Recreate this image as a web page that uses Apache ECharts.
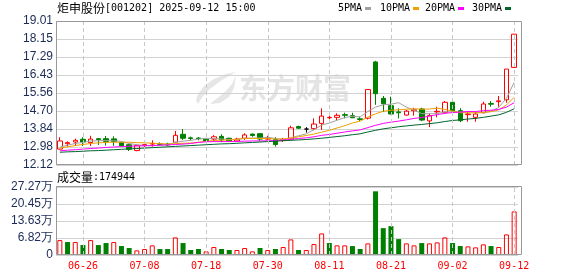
<!DOCTYPE html>
<html><head><meta charset="utf-8">
<script src="https://cdn.jsdelivr.net/npm/echarts@6/dist/echarts.min.js"></script>
<style>html,body{margin:0;padding:0;background:#fff}#c{width:578px;height:276px}</style>
</head><body><div id="c"></div>
<script>
const stockName = '炬申股份';
const stockCode = '001202';
const timeStr = '2025-09-12 15:00';
const lastVolume = 174944;

const dates = ['06-23','06-24','06-25','06-26','06-27','06-30','07-01','07-02','07-03','07-04','07-07','07-08','07-09','07-10','07-11','07-14','07-15','07-16','07-17','07-18','07-21','07-22','07-23','07-24','07-25','07-28','07-29','07-30','07-31','08-01','08-04','08-05','08-06','08-07','08-08','08-11','08-12','08-13','08-14','08-15','08-18','08-19','08-20','08-21','08-22','08-25','08-26','08-27','08-28','08-29','09-01','09-02','09-03','09-04','09-05','09-08','09-09','09-10','09-11','09-12'];
const labelDates = ['06-26','07-08','07-18','07-30','08-11','08-21','09-02','09-12'];

const opens  = [12.88,13.14,13.22,13.35,13.19,13.38,13.38,13.37,13.19,13.09,12.81,13.05,13.12,13.13,13.12,13.21,13.59,13.42,13.41,13.35,13.36,13.49,13.40,13.27,13.40,13.60,13.62,13.36,13.33,13.30,13.36,13.96,13.84,13.86,14.11,14.38,14.40,14.53,14.48,14.33,14.36,17.05,15.31,14.96,14.66,14.51,14.72,14.80,14.23,14.66,14.64,15.12,14.72,14.53,14.40,14.62,15.06,15.15,15.24,16.79];
const closes = [13.27,13.19,13.30,13.22,13.36,13.34,13.25,13.25,13.04,12.87,13.05,13.10,13.15,13.11,13.08,13.54,13.40,13.39,13.38,13.27,13.47,13.32,13.26,13.36,13.56,13.53,13.36,13.40,13.10,13.33,13.90,13.88,13.84,14.08,14.46,14.40,14.50,14.50,14.38,14.30,15.73,15.53,15.05,14.56,14.62,14.70,14.76,14.27,14.48,14.69,15.12,14.72,14.24,14.56,14.56,15.04,15.03,15.19,16.71,18.38];
const lows   = [12.86,13.00,13.03,13.03,13.03,13.08,13.05,13.04,13.00,12.79,12.78,12.97,13.00,13.05,13.02,13.16,13.32,13.30,13.30,13.25,13.24,13.21,13.24,13.22,13.32,13.47,13.27,13.32,13.00,13.22,13.34,13.85,13.67,13.80,13.80,14.19,14.27,14.35,14.37,14.22,14.30,15.00,14.65,14.55,14.35,14.48,14.48,14.22,13.93,14.40,14.59,14.68,14.17,14.19,14.19,14.60,14.91,14.91,15.10,16.76];
const highs  = [13.45,13.25,13.38,13.45,13.52,13.40,13.51,13.49,13.23,13.14,13.10,13.21,13.30,13.20,13.18,13.75,13.84,13.48,13.46,13.38,13.55,13.59,13.42,13.42,13.64,13.62,13.64,13.52,13.45,13.42,14.00,14.00,13.93,14.35,14.83,14.47,14.59,14.62,14.62,14.43,15.73,17.10,15.42,15.39,14.83,14.75,14.86,14.86,14.59,14.91,15.18,15.18,14.84,14.67,14.67,15.15,15.18,15.42,16.71,18.38];

const ma5  = [12.97,13.07,13.15,13.20,13.27,13.28,13.29,13.28,13.25,13.15,13.09,13.06,13.04,13.06,13.10,13.20,13.26,13.30,13.36,13.40,13.38,13.37,13.34,13.34,13.39,13.41,13.41,13.44,13.39,13.34,13.42,13.52,13.61,13.81,14.03,14.13,14.26,14.39,14.45,14.42,14.68,14.89,15.00,15.03,15.10,14.89,14.74,14.58,14.57,14.58,14.66,14.66,14.65,14.67,14.64,14.62,14.69,14.88,15.31,16.07];
const ma10 = [12.93,12.99,13.05,13.10,13.15,13.18,13.20,13.21,13.21,13.21,13.19,13.18,13.16,13.15,13.12,13.14,13.16,13.17,13.21,13.25,13.29,13.31,13.32,13.35,13.40,13.39,13.39,13.39,13.36,13.37,13.41,13.47,13.53,13.60,13.69,13.78,13.89,14.00,14.13,14.22,14.41,14.57,14.69,14.74,14.76,14.79,14.81,14.79,14.80,14.84,14.78,14.70,14.62,14.62,14.61,14.64,14.67,14.76,14.99,15.36];
const ma20 = [12.80,12.83,12.85,12.88,12.91,12.93,12.96,12.98,13.00,13.02,13.03,13.04,13.05,13.07,13.08,13.10,13.12,13.15,13.20,13.23,13.24,13.24,13.24,13.25,13.26,13.27,13.27,13.28,13.29,13.31,13.35,13.39,13.42,13.47,13.54,13.58,13.64,13.70,13.75,13.80,13.91,14.02,14.11,14.17,14.22,14.28,14.35,14.39,14.46,14.53,14.59,14.63,14.65,14.68,14.68,14.72,14.74,14.78,14.89,15.10];
const ma30 = [12.73,12.75,12.76,12.78,12.80,12.81,12.83,12.85,12.87,12.89,12.91,12.93,12.95,12.97,12.99,13.01,13.03,13.05,13.07,13.09,13.11,13.13,13.14,13.16,13.18,13.20,13.22,13.24,13.26,13.28,13.30,13.32,13.34,13.37,13.40,13.44,13.48,13.52,13.57,13.61,13.70,13.78,13.85,13.90,13.95,13.99,14.03,14.06,14.10,14.14,14.20,14.25,14.28,14.32,14.35,14.40,14.46,14.52,14.64,14.81];

const volumes = [59900,51900,51900,39900,59900,39900,47900,51900,35900,27900,18600,23900,38600,23900,23900,70500,47900,20000,24000,14600,32000,24000,20000,20000,28000,14600,28000,20000,24000,32000,62500,20000,20000,43900,86500,47900,38600,38600,35900,24000,46600,255400,107700,115700,63800,46600,38600,47900,46600,50500,70500,47900,35900,34600,30600,42600,35900,32000,82500,174944];
const volumeUp = [1,0,1,0,1,0,0,1,0,0,1,1,1,0,0,1,0,0,0,1,1,0,0,1,1,1,0,1,0,1,1,0,1,1,1,0,1,1,0,0,1,0,0,0,0,1,1,0,1,1,1,0,0,1,1,1,0,1,1,1];

const priceMin = 12.12, priceMax = 19.01, priceStep = 0.86125;
const priceTicks = ['12.12','12.98','13.84','14.70','15.56','16.43','17.29','18.15','19.01'];
const volMax = 272700, volStep = 68175;
const volTicks = ['0','6.82万','13.63万','20.45万','27.27万'];

const maNames = ['5PMA','10PMA','20PMA','30PMA'];
const maColors = ['#a0a0a0','#f0a000','#ff00ff','#00662e'];
const maData = [ma5, ma10, ma20, ma30];

const RED = '#ff0000', GREEN = '#008000', LABEL = '#1b2b55';

const candleData = dates.map((d, i) => {
  const item = { value: [opens[i], closes[i], lows[i], highs[i]] };
  if (opens[i] === closes[i]) {
    item.itemStyle = { color: '#000', color0: '#000', borderColor: '#000', borderColor0: '#000' };
  }
  return item;
});
const volData = volumes.map((v, i) => ({
  value: v,
  itemStyle: volumeUp[i]
    ? { color: 'rgba(0,0,0,0)', borderColor: RED, borderWidth: 1 }
    : { color: GREEN, borderColor: GREEN, borderWidth: 0 }
}));

const vLines = labelDates.map(d => ({ xAxis: d }));
const markLineCfg = {
  silent: true, symbol: ['none', 'none'], label: { show: false },
  lineStyle: { color: '#c8c8c8', type: [4, 3], width: 1 },
  emphasis: { disabled: true }, animation: false,
  data: vLines
};

const chart = echarts.init(document.getElementById('c'), null, { renderer: 'canvas' });

const graphics = [];
graphics.push({ type: 'rect', z: 10, shape: { x: 56.5, y: 21.5, width: 465, height: 143 }, style: { fill: null, stroke: '#999', lineWidth: 1 } });
graphics.push({ type: 'rect', z: 10, shape: { x: 56.5, y: 186.5, width: 465, height: 68 }, style: { fill: null, stroke: '#999', lineWidth: 1 } });
graphics.push({ type: 'text', x: 57, y: 8.5, style: {
  text: '{a|' + stockName + '}{b|[' + stockCode + '] ' + timeStr + '}',
  verticalAlign: 'middle', fill: '#000',
  rich: { a: { fontFamily: 'Noto Sans CJK SC', fontSize: 12, fill: '#000' }, b: { fontFamily: 'DejaVu Sans Mono', fontSize: 10, fill: '#000' } }
} });
const legX = [338, 380, 425, 472];
maNames.forEach((n, k) => {
  graphics.push({ type: 'text', x: legX[k], y: 8.5, style: { text: n, fontFamily: 'DejaVu Sans Mono', fontSize: 10, fill: '#000', verticalAlign: 'middle' } });
  graphics.push({ type: 'rect', shape: { x: legX[k] + n.length * 6 + 3, y: 7, width: 6, height: 3 }, style: { fill: maColors[k] } });
});
graphics.push({ type: 'text', x: 57, y: 177.5, style: {
  text: '{a|成交量}{b|:' + lastVolume + '}', verticalAlign: 'middle',
  rich: { a: { fontFamily: 'Noto Sans CJK SC', fontSize: 12, fill: '#000' }, b: { fontFamily: 'DejaVu Sans Mono', fontSize: 10, fill: '#000' } }
} });
graphics.push({ type: 'polygon', z: 0, shape: { points: [[236,72],[226,74],[214,79],[204,86],[198,94],[196,100],[198,104],[203,96],[211,88],[222,80]] }, style: { fill: '#e6e6e6' } });
graphics.push({ type: 'polygon', z: 0, shape: { points: [[236,75],[232,84],[225,92],[216,99],[210,104],[220,103],[229,97],[234,88]] }, style: { fill: '#e6e6e6' } });
graphics.push({ type: 'text', z: 0, x: 239, y: 88.5, style: { text: '东方财富', fontFamily: 'Noto Sans CJK SC', fontWeight: 'bold', fontSize: 28, fill: '#e4e4e4', verticalAlign: 'middle' } });

const option = {
  animation: false,
  backgroundColor: '#fff',
  grid: [
    { left: 56, top: 21, width: 462, height: 144 },
    { left: 56, top: 187, width: 462, height: 68 }
  ],
  xAxis: [
    { type: 'category', gridIndex: 0, data: dates, boundaryGap: true,
      axisLine: { show: false }, axisTick: { show: false }, axisLabel: { show: false }, splitLine: { show: false } },
    { type: 'category', gridIndex: 1, data: dates, boundaryGap: true,
      axisLine: { show: false }, axisTick: { show: false }, splitLine: { show: false },
      axisLabel: { interval: (idx, val) => labelDates.indexOf(val) >= 0, color: RED, fontFamily: 'DejaVu Sans Mono', fontSize: 10, margin: 6 } }
  ],
  yAxis: [
    { type: 'value', gridIndex: 0, min: priceMin, max: priceMax, interval: priceStep,
      axisLine: { show: false }, axisTick: { show: false },
      axisLabel: { formatter: v => priceTicks[Math.round((v - priceMin) / priceStep)], color: LABEL, fontFamily: 'Liberation Sans', fontSize: 12, margin: 3 },
      splitLine: { lineStyle: { color: '#d2d2d2', width: 1 } } },
    { type: 'value', gridIndex: 1, min: 0, max: volMax, interval: volStep,
      axisLine: { show: false }, axisTick: { show: false },
      axisLabel: { formatter: v => volTicks[Math.round(v / volStep)], color: LABEL, fontFamily: 'Liberation Sans', fontSize: 12, margin: 3 },
      splitLine: { lineStyle: { color: '#d2d2d2', width: 1 } } }
  ],
  series: [
    { type: 'candlestick', name: 'K', xAxisIndex: 0, yAxisIndex: 0, data: candleData, barWidth: 5,
      itemStyle: { color: 'rgba(0,0,0,0)', color0: GREEN, borderColor: RED, borderColor0: GREEN, borderColorDoji: '#000', borderWidth: 1 },
      markLine: markLineCfg },
    ...maNames.map((n, k) => ({ type: 'line', name: n, xAxisIndex: 0, yAxisIndex: 0, data: maData[k],
      symbol: 'none', showSymbol: false, lineStyle: { color: maColors[k], width: 1 }, itemStyle: { color: maColors[k] }, z: 3 })),
    { type: 'bar', name: 'VOL', xAxisIndex: 1, yAxisIndex: 1, data: volData, barWidth: 5,
      markLine: markLineCfg }
  ],
  graphic: graphics
};
chart.setOption(option);
</script>
</body></html>
